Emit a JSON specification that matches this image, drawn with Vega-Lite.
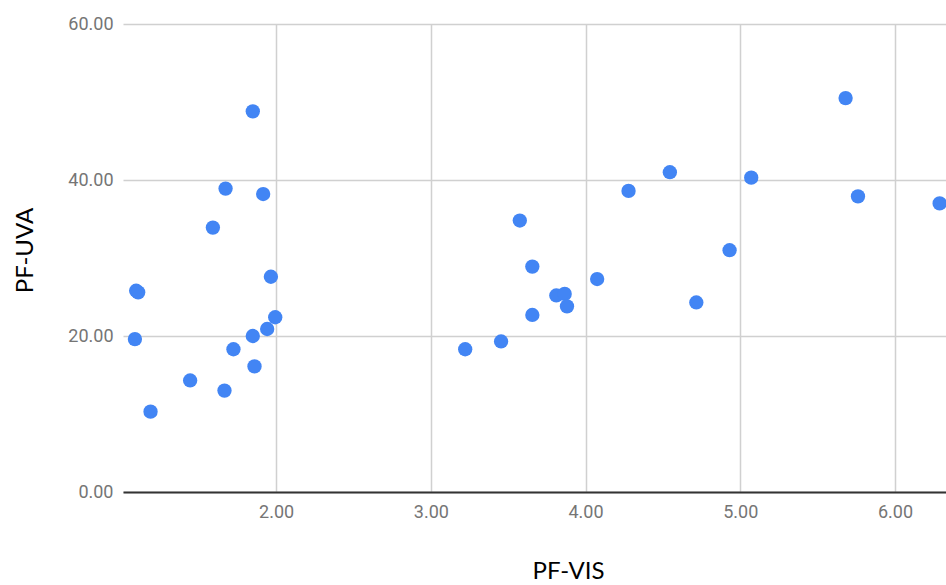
{
  "$schema": "https://vega.github.io/schema/vega-lite/v6.json",
  "autosize": "none",
  "width": 823,
  "height": 468,
  "padding": {"left": 123, "top": 24, "right": 0, "bottom": 93},
  "background": "white",
  "config": {"view": {"stroke": null}},
  "data": {
    "values": [
      {"vis": 1.849, "uva": 48.8},
      {"vis": 1.673, "uva": 38.9},
      {"vis": 1.916, "uva": 38.2},
      {"vis": 1.591, "uva": 33.9},
      {"vis": 1.966, "uva": 27.6},
      {"vis": 1.095, "uva": 25.8},
      {"vis": 1.108, "uva": 25.6},
      {"vis": 1.994, "uva": 22.4},
      {"vis": 1.942, "uva": 20.9},
      {"vis": 1.849, "uva": 20.0},
      {"vis": 1.087, "uva": 19.6},
      {"vis": 1.724, "uva": 18.3},
      {"vis": 1.86, "uva": 16.1},
      {"vis": 1.444, "uva": 14.3},
      {"vis": 1.666, "uva": 13.0},
      {"vis": 1.188, "uva": 10.3},
      {"vis": 3.575, "uva": 34.8},
      {"vis": 3.656, "uva": 28.9},
      {"vis": 4.075, "uva": 27.3},
      {"vis": 3.811, "uva": 25.2},
      {"vis": 3.865, "uva": 25.4},
      {"vis": 3.88, "uva": 23.8},
      {"vis": 3.656, "uva": 22.7},
      {"vis": 3.454, "uva": 19.3},
      {"vis": 3.222, "uva": 18.3},
      {"vis": 5.681, "uva": 50.5},
      {"vis": 4.545, "uva": 41.0},
      {"vis": 5.071, "uva": 40.3},
      {"vis": 4.278, "uva": 38.6},
      {"vis": 5.761, "uva": 37.9},
      {"vis": 6.289, "uva": 37.0},
      {"vis": 4.931, "uva": 31.0},
      {"vis": 4.716, "uva": 24.3}
    ]
  },
  "mark": {"type": "circle", "size": 205, "color": "#4285F4", "opacity": 1, "clip": true},
  "encoding": {
    "x": {
      "field": "vis",
      "type": "quantitative",
      "scale": {"domain": [1.01, 6.33], "nice": false, "zero": false},
      "axis": {
        "title": "PF-VIS",
        "values": [2, 3, 4, 5, 6],
        "format": ".2f",
        "grid": true,
        "gridColor": "#d0d0d0",
        "gridWidth": 1.5,
        "ticks": false,
        "domainColor": "#333333",
        "domainWidth": 2,
        "labelFont": "Roboto",
        "labelFontSize": 18,
        "labelColor": "#757575",
        "labelPadding": 11,
        "titleFont": "Lato",
        "titleFontSize": 24,
        "titleFontWeight": "normal",
        "titleColor": "#000000",
        "titleX": 445,
        "titleY": 86,
        "titleBaseline": "alphabetic"
      }
    },
    "y": {
      "field": "uva",
      "type": "quantitative",
      "scale": {"domain": [0, 60], "nice": false},
      "axis": {
        "title": "PF-UVA",
        "values": [0, 20, 40, 60],
        "format": ".2f",
        "grid": true,
        "gridColor": "#d0d0d0",
        "gridWidth": 1.5,
        "ticks": false,
        "domain": false,
        "labelFont": "Roboto",
        "labelFontSize": 18,
        "labelColor": "#757575",
        "labelPadding": 10,
        "titleFont": "Lato",
        "titleFontSize": 24,
        "titleFontWeight": "normal",
        "titleColor": "#000000",
        "titleX": -98,
        "titleY": 226,
        "titleBaseline": "middle"
      }
    }
  }
}
